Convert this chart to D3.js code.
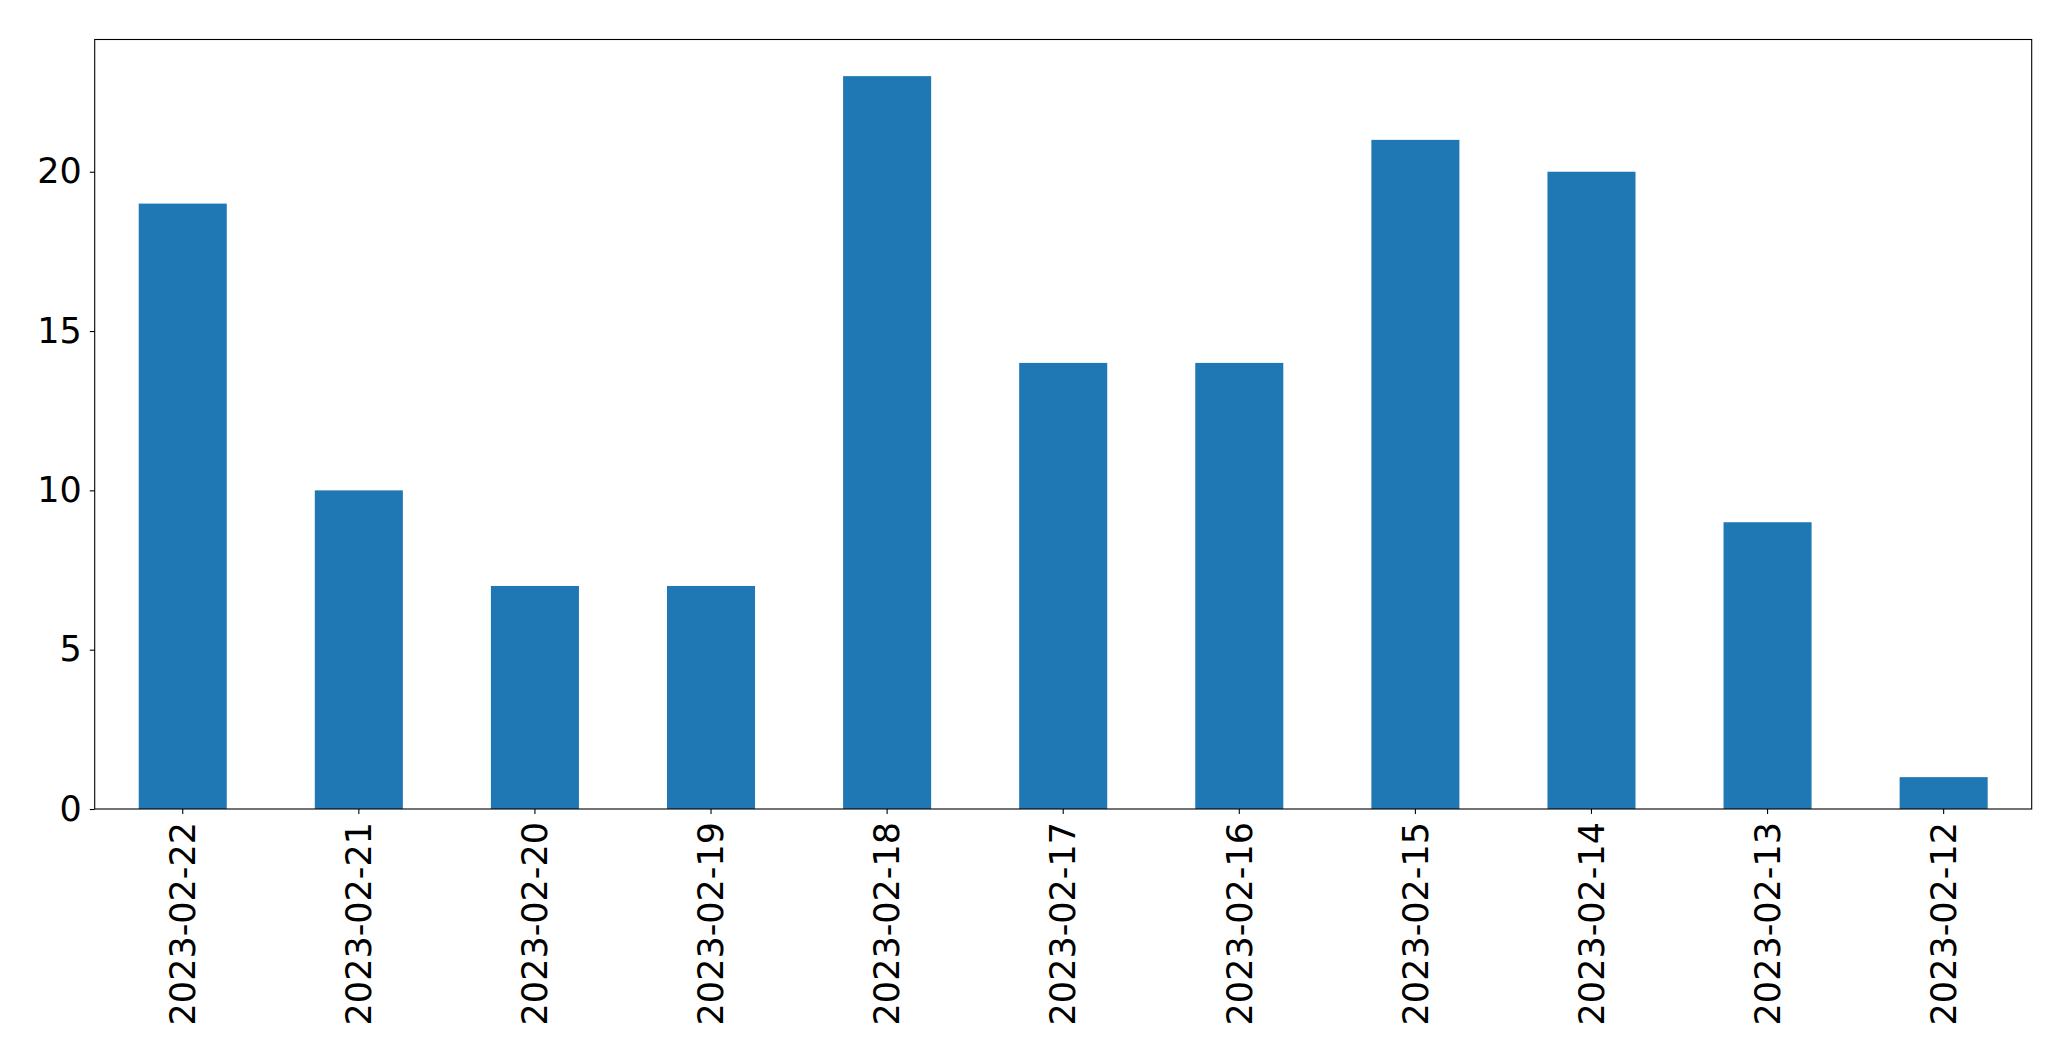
<!DOCTYPE html>
<html>
<head>
<meta charset="utf-8">
<script src="https://cdn.jsdelivr.net/npm/d3@7"></script>
<style>
  html, body { margin: 0; padding: 0; background: #fff; }
  svg { display: block; }
  text { font-family: "DejaVu Sans", sans-serif; fill: #000; }
</style>
</head>
<body>
<svg id="chart" width="2071" height="1061"></svg>
<script>
const categories = ["2023-02-22","2023-02-21","2023-02-20","2023-02-19","2023-02-18","2023-02-17","2023-02-16","2023-02-15","2023-02-14","2023-02-13","2023-02-12"];
const values = [19, 10, 7, 7, 23, 14, 14, 21, 20, 9, 1];
const yTicks = [0, 5, 10, 15, 20];

const W = 2071, H = 1061;
const margin = { left: 94.7, right: W - 2031.7, top: 39.5, bottom: H - 809 };
const svg = d3.select("#chart");
const iw = W - margin.left - margin.right;
const ih = H - margin.top - margin.bottom;
const g = svg.append("g").attr("transform", `translate(${margin.left},${margin.top})`);

const x = d3.scaleBand().domain(categories).range([0, iw]).paddingInner(0.5).paddingOuter(0.25);
const y = d3.scaleLinear().domain([0, d3.max(values) * 1.05]).range([ih, 0]);

g.selectAll("rect.bar").data(values).join("rect")
  .attr("class", "bar")
  .attr("x", (d, i) => x(categories[i]))
  .attr("width", x.bandwidth())
  .attr("y", d => y(d))
  .attr("height", d => y(0) - y(d))
  .attr("fill", "#1f77b4");

// frame
g.append("rect").attr("x", 0).attr("y", 0).attr("width", iw).attr("height", ih)
  .attr("fill", "none").attr("stroke", "#000").attr("stroke-width", 1.1);

// x axis
const xAxis = d3.axisBottom(x).tickSize(4.9).tickPadding(4.9);
const gx = g.append("g").attr("transform", `translate(0,${ih})`).call(xAxis);
gx.select(".domain").remove();
gx.selectAll(".tick line").attr("stroke", "#000").attr("stroke-width", 1.1);
gx.selectAll(".tick text")
  .style("font-size", "35px")
  .attr("transform", "rotate(-90)")
  .attr("x", -13)
  .attr("y", 0)
  .attr("dy", "0.35em")
  .attr("text-anchor", "end");

// y axis
const yAxis = d3.axisLeft(y).tickValues(yTicks).tickSize(4.9).tickPadding(8);
const gy = g.append("g").call(yAxis);
gy.select(".domain").remove();
gy.selectAll(".tick line").attr("stroke", "#000").attr("stroke-width", 1.1);
gy.selectAll(".tick text").style("font-size", "35px");
</script>
</body>
</html>
